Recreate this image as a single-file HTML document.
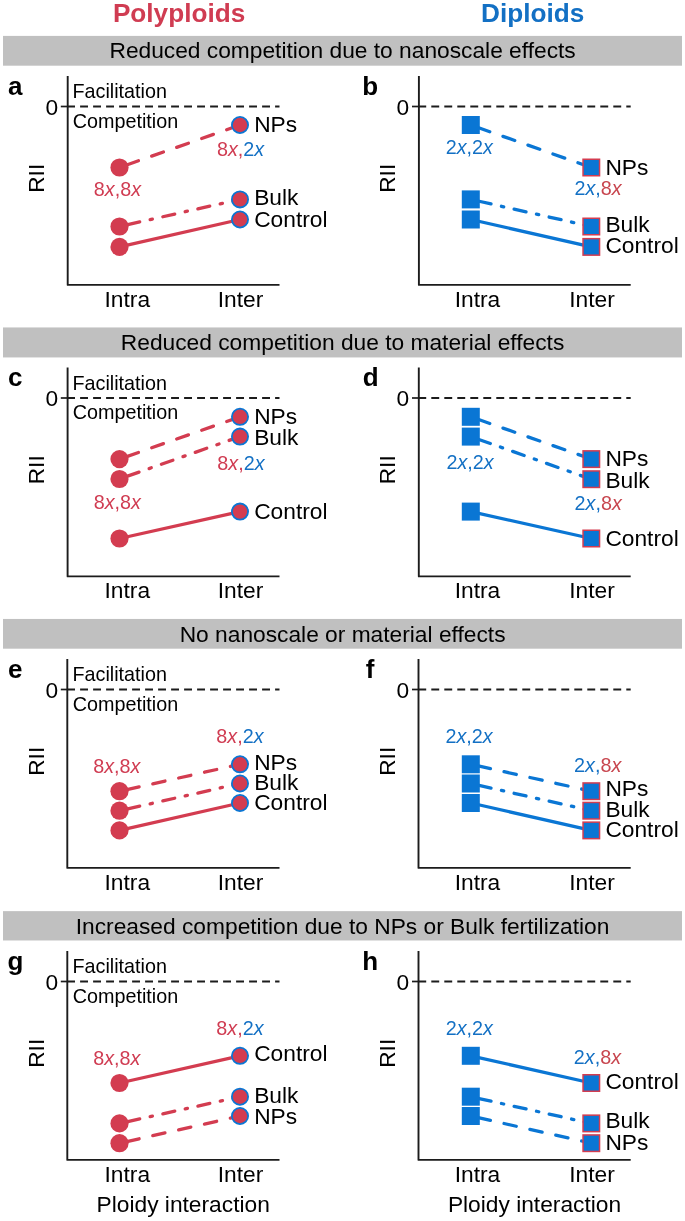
<!DOCTYPE html>
<html><head><meta charset="utf-8"><style>
html,body{margin:0;padding:0;background:#fff;}
body{width:685px;height:1221px;overflow:hidden;}
svg{display:block;will-change:transform;font-family:"Liberation Sans",sans-serif;}
</style></head><body>
<svg width="685" height="1221" viewBox="0 0 685 1221">
<rect x="3" y="35.9" width="679" height="29.800000000000004" fill="#c0c0c0"/>
<text x="342.6" y="58.03" font-size="22.75" text-anchor="middle" fill="#000" font-weight="normal" >Reduced competition due to nanoscale effects</text>
<path d="M67.7,76 V284.9 H279.5" fill="none" stroke="#1c1c1c" stroke-width="1.9" stroke-linejoin="round"/>
<line x1="60.8" y1="106.5" x2="67.7" y2="106.5" stroke="#1c1c1c" stroke-width="1.7"/>
<line x1="67.1" y1="106.5" x2="279.5" y2="106.5" stroke="#1c1c1c" stroke-width="1.8" stroke-dasharray="7.9 5.1"/>
<text x="45.4" y="114.5" font-size="22.75" text-anchor="start" fill="#000" font-weight="normal" >0</text>
<text x="7.9" y="94.6" font-size="26" text-anchor="start" fill="#000" font-weight="bold" >a</text>
<text x="0" y="0" font-size="22.75" text-anchor="middle" transform="translate(44.2,178.3) rotate(-90)">RII</text>
<text x="72.5" y="98" font-size="19.75" text-anchor="start" fill="#000" font-weight="normal" >Facilitation</text>
<text x="72.8" y="127.8" font-size="19.75" text-anchor="start" fill="#000" font-weight="normal" >Competition</text>
<text x="127.3" y="306.7" font-size="22.75" text-anchor="middle" fill="#000" font-weight="normal" >Intra</text>
<text x="240.5" y="306.7" font-size="22.75" text-anchor="middle" fill="#000" font-weight="normal" >Inter</text>
<line x1="119.5" y1="167.5" x2="240.0" y2="125.0" stroke="#d33c50" stroke-width="3.3" stroke-linecap="round" stroke-dasharray="12.5 14" stroke-dashoffset="18.9"/>
<line x1="119.5" y1="226.5" x2="240.0" y2="199.4" stroke="#d33c50" stroke-width="3.3" stroke-linecap="round" stroke-dasharray="12.2 10.7 2.3 10.7" stroke-dashoffset="27.4"/>
<line x1="119.5" y1="246.9" x2="240.0" y2="219.5" stroke="#d33c50" stroke-width="3.3" stroke-linecap="round"/>
<circle cx="119.5" cy="167.5" r="9.1" fill="#d33c50"/>
<circle cx="240.0" cy="125.0" r="8.1" fill="#d33c50" stroke="#0a76d4" stroke-width="1.8"/>
<text x="254.2" y="132.2" font-size="22.75" text-anchor="start" fill="#000" font-weight="normal" >NPs</text>
<circle cx="119.5" cy="226.5" r="9.1" fill="#d33c50"/>
<circle cx="240.0" cy="199.4" r="8.1" fill="#d33c50" stroke="#0a76d4" stroke-width="1.8"/>
<text x="254.2" y="205.4" font-size="22.75" text-anchor="start" fill="#000" font-weight="normal" >Bulk</text>
<circle cx="119.5" cy="246.9" r="9.1" fill="#d33c50"/>
<circle cx="240.0" cy="219.5" r="8.1" fill="#d33c50" stroke="#0a76d4" stroke-width="1.8"/>
<text x="254.2" y="226.8" font-size="22.75" text-anchor="start" fill="#000" font-weight="normal" >Control</text>
<text x="117.4" y="195.9" font-size="19.75" text-anchor="middle"><tspan fill="#d03c52">8<tspan font-style="italic">x</tspan>,</tspan><tspan fill="#d03c52">8<tspan font-style="italic">x</tspan></tspan></text>
<text x="240.5" y="155.9" font-size="19.75" text-anchor="middle"><tspan fill="#d03c52">8<tspan font-style="italic">x</tspan>,</tspan><tspan fill="#1370c4">2<tspan font-style="italic">x</tspan></tspan></text>
<path d="M418.9,76 V284.9 H630.7" fill="none" stroke="#1c1c1c" stroke-width="1.9" stroke-linejoin="round"/>
<line x1="412.0" y1="106.5" x2="418.9" y2="106.5" stroke="#1c1c1c" stroke-width="1.7"/>
<line x1="418.29999999999995" y1="106.5" x2="630.7" y2="106.5" stroke="#1c1c1c" stroke-width="1.8" stroke-dasharray="7.9 5.1"/>
<text x="396.59999999999997" y="114.5" font-size="22.75" text-anchor="start" fill="#000" font-weight="normal" >0</text>
<text x="362.3" y="94.6" font-size="26" text-anchor="start" fill="#000" font-weight="bold" >b</text>
<text x="0" y="0" font-size="22.75" text-anchor="middle" transform="translate(395.4,178.3) rotate(-90)">RII</text>
<text x="477.5" y="306.7" font-size="22.75" text-anchor="middle" fill="#000" font-weight="normal" >Intra</text>
<text x="592.0" y="306.7" font-size="22.75" text-anchor="middle" fill="#000" font-weight="normal" >Inter</text>
<line x1="470.8" y1="125.0" x2="591.3000000000001" y2="167.5" stroke="#0a76d4" stroke-width="3.3" stroke-linecap="round" stroke-dasharray="12.5 14" stroke-dashoffset="18.9"/>
<line x1="470.8" y1="199.4" x2="591.3000000000001" y2="226.5" stroke="#0a76d4" stroke-width="3.3" stroke-linecap="round" stroke-dasharray="12.2 10.7 2.3 10.7" stroke-dashoffset="27.4"/>
<line x1="470.8" y1="219.5" x2="591.3000000000001" y2="246.9" stroke="#0a76d4" stroke-width="3.3" stroke-linecap="round"/>
<rect x="461.8" y="116.0" width="18" height="18" fill="#0a76d4"/>
<rect x="583.0500000000001" y="159.25" width="16.5" height="16.5" fill="#0a76d4" stroke="#d33c50" stroke-width="1.5"/>
<text x="605.4" y="174.5" font-size="22.75" text-anchor="start" fill="#000" font-weight="normal" >NPs</text>
<rect x="461.8" y="190.4" width="18" height="18" fill="#0a76d4"/>
<rect x="583.0500000000001" y="218.25" width="16.5" height="16.5" fill="#0a76d4" stroke="#d33c50" stroke-width="1.5"/>
<text x="605.4" y="231.5" font-size="22.75" text-anchor="start" fill="#000" font-weight="normal" >Bulk</text>
<rect x="461.8" y="210.5" width="18" height="18" fill="#0a76d4"/>
<rect x="583.0500000000001" y="238.65" width="16.5" height="16.5" fill="#0a76d4" stroke="#d33c50" stroke-width="1.5"/>
<text x="605.4" y="253.4" font-size="22.75" text-anchor="start" fill="#000" font-weight="normal" >Control</text>
<text x="469.3" y="154.2" font-size="19.75" text-anchor="middle"><tspan fill="#1370c4">2<tspan font-style="italic">x</tspan>,</tspan><tspan fill="#1370c4">2<tspan font-style="italic">x</tspan></tspan></text>
<text x="598.0" y="195.2" font-size="19.75" text-anchor="middle"><tspan fill="#1370c4">2<tspan font-style="italic">x</tspan>,</tspan><tspan fill="#c8464f">8<tspan font-style="italic">x</tspan></tspan></text>
<rect x="3" y="327.45" width="679" height="30.0" fill="#c0c0c0"/>
<text x="342.6" y="350.2" font-size="22.75" text-anchor="middle" fill="#000" font-weight="normal" >Reduced competition due to material effects</text>
<path d="M67.6,367.5 V576.4 H279.5" fill="none" stroke="#1c1c1c" stroke-width="1.9" stroke-linejoin="round"/>
<line x1="60.8" y1="398.0" x2="67.6" y2="398.0" stroke="#1c1c1c" stroke-width="1.7"/>
<line x1="67.1" y1="398.0" x2="279.5" y2="398.0" stroke="#1c1c1c" stroke-width="1.8" stroke-dasharray="7.9 5.1"/>
<text x="45.4" y="406.0" font-size="22.75" text-anchor="start" fill="#000" font-weight="normal" >0</text>
<text x="7.9" y="386.1" font-size="26" text-anchor="start" fill="#000" font-weight="bold" >c</text>
<text x="0" y="0" font-size="22.75" text-anchor="middle" transform="translate(44.2,469.8) rotate(-90)">RII</text>
<text x="72.5" y="389.5" font-size="19.75" text-anchor="start" fill="#000" font-weight="normal" >Facilitation</text>
<text x="72.8" y="419.3" font-size="19.75" text-anchor="start" fill="#000" font-weight="normal" >Competition</text>
<text x="127.3" y="598.2" font-size="22.75" text-anchor="middle" fill="#000" font-weight="normal" >Intra</text>
<text x="240.5" y="598.2" font-size="22.75" text-anchor="middle" fill="#000" font-weight="normal" >Inter</text>
<line x1="119.5" y1="459.1" x2="240.0" y2="416.8" stroke="#d33c50" stroke-width="3.3" stroke-linecap="round" stroke-dasharray="12.5 14" stroke-dashoffset="18.9"/>
<line x1="119.5" y1="479.0" x2="240.0" y2="436.6" stroke="#d33c50" stroke-width="3.3" stroke-linecap="round" stroke-dasharray="12.2 10.7 2.3 10.7" stroke-dashoffset="27.4"/>
<line x1="119.5" y1="538.5" x2="240.0" y2="511.6" stroke="#d33c50" stroke-width="3.3" stroke-linecap="round"/>
<circle cx="119.5" cy="459.1" r="9.1" fill="#d33c50"/>
<circle cx="240.0" cy="416.8" r="8.1" fill="#d33c50" stroke="#0a76d4" stroke-width="1.8"/>
<text x="254.2" y="423.5" font-size="22.75" text-anchor="start" fill="#000" font-weight="normal" >NPs</text>
<circle cx="119.5" cy="479.0" r="9.1" fill="#d33c50"/>
<circle cx="240.0" cy="436.6" r="8.1" fill="#d33c50" stroke="#0a76d4" stroke-width="1.8"/>
<text x="254.2" y="445.0" font-size="22.75" text-anchor="start" fill="#000" font-weight="normal" >Bulk</text>
<circle cx="119.5" cy="538.5" r="9.1" fill="#d33c50"/>
<circle cx="240.0" cy="511.6" r="8.1" fill="#d33c50" stroke="#0a76d4" stroke-width="1.8"/>
<text x="254.2" y="518.6" font-size="22.75" text-anchor="start" fill="#000" font-weight="normal" >Control</text>
<text x="117.3" y="509.2" font-size="19.75" text-anchor="middle"><tspan fill="#d03c52">8<tspan font-style="italic">x</tspan>,</tspan><tspan fill="#d03c52">8<tspan font-style="italic">x</tspan></tspan></text>
<text x="240.9" y="469.9" font-size="19.75" text-anchor="middle"><tspan fill="#d03c52">8<tspan font-style="italic">x</tspan>,</tspan><tspan fill="#1370c4">2<tspan font-style="italic">x</tspan></tspan></text>
<path d="M418.79999999999995,367.5 V576.4 H630.7" fill="none" stroke="#1c1c1c" stroke-width="1.9" stroke-linejoin="round"/>
<line x1="412.0" y1="398.0" x2="418.79999999999995" y2="398.0" stroke="#1c1c1c" stroke-width="1.7"/>
<line x1="418.29999999999995" y1="398.0" x2="630.7" y2="398.0" stroke="#1c1c1c" stroke-width="1.8" stroke-dasharray="7.9 5.1"/>
<text x="396.59999999999997" y="406.0" font-size="22.75" text-anchor="start" fill="#000" font-weight="normal" >0</text>
<text x="362.8" y="386.1" font-size="26" text-anchor="start" fill="#000" font-weight="bold" >d</text>
<text x="0" y="0" font-size="22.75" text-anchor="middle" transform="translate(395.4,469.8) rotate(-90)">RII</text>
<text x="477.5" y="598.2" font-size="22.75" text-anchor="middle" fill="#000" font-weight="normal" >Intra</text>
<text x="592.0" y="598.2" font-size="22.75" text-anchor="middle" fill="#000" font-weight="normal" >Inter</text>
<line x1="470.8" y1="416.8" x2="591.3000000000001" y2="459.1" stroke="#0a76d4" stroke-width="3.3" stroke-linecap="round" stroke-dasharray="12.5 14" stroke-dashoffset="18.9"/>
<line x1="470.8" y1="436.6" x2="591.3000000000001" y2="479.2" stroke="#0a76d4" stroke-width="3.3" stroke-linecap="round" stroke-dasharray="12.2 10.7 2.3 10.7" stroke-dashoffset="27.4"/>
<line x1="470.8" y1="511.6" x2="591.3000000000001" y2="538.5" stroke="#0a76d4" stroke-width="3.3" stroke-linecap="round"/>
<rect x="461.8" y="407.8" width="18" height="18" fill="#0a76d4"/>
<rect x="583.0500000000001" y="450.85" width="16.5" height="16.5" fill="#0a76d4" stroke="#d33c50" stroke-width="1.5"/>
<text x="605.4" y="465.9" font-size="22.75" text-anchor="start" fill="#000" font-weight="normal" >NPs</text>
<rect x="461.8" y="427.6" width="18" height="18" fill="#0a76d4"/>
<rect x="583.0500000000001" y="470.95" width="16.5" height="16.5" fill="#0a76d4" stroke="#d33c50" stroke-width="1.5"/>
<text x="605.4" y="488.2" font-size="22.75" text-anchor="start" fill="#000" font-weight="normal" >Bulk</text>
<rect x="461.8" y="502.6" width="18" height="18" fill="#0a76d4"/>
<rect x="583.0500000000001" y="530.25" width="16.5" height="16.5" fill="#0a76d4" stroke="#d33c50" stroke-width="1.5"/>
<text x="605.4" y="546.0" font-size="22.75" text-anchor="start" fill="#000" font-weight="normal" >Control</text>
<text x="470.1" y="469.4" font-size="19.75" text-anchor="middle"><tspan fill="#1370c4">2<tspan font-style="italic">x</tspan>,</tspan><tspan fill="#1370c4">2<tspan font-style="italic">x</tspan></tspan></text>
<text x="598.2" y="510.4" font-size="19.75" text-anchor="middle"><tspan fill="#1370c4">2<tspan font-style="italic">x</tspan>,</tspan><tspan fill="#c8464f">8<tspan font-style="italic">x</tspan></tspan></text>
<rect x="3" y="618.94" width="679" height="29.75999999999999" fill="#c0c0c0"/>
<text x="342.6" y="641.8" font-size="22.75" text-anchor="middle" fill="#000" font-weight="normal" >No nanoscale or material effects</text>
<path d="M67.3,659.0 V867.9 H279.5" fill="none" stroke="#1c1c1c" stroke-width="1.9" stroke-linejoin="round"/>
<line x1="60.8" y1="689.5" x2="67.3" y2="689.5" stroke="#1c1c1c" stroke-width="1.7"/>
<line x1="67.1" y1="689.5" x2="279.5" y2="689.5" stroke="#1c1c1c" stroke-width="1.8" stroke-dasharray="7.9 5.1"/>
<text x="45.4" y="697.5" font-size="22.75" text-anchor="start" fill="#000" font-weight="normal" >0</text>
<text x="7.9" y="677.6" font-size="26" text-anchor="start" fill="#000" font-weight="bold" >e</text>
<text x="0" y="0" font-size="22.75" text-anchor="middle" transform="translate(44.2,761.3) rotate(-90)">RII</text>
<text x="72.5" y="681.0" font-size="19.75" text-anchor="start" fill="#000" font-weight="normal" >Facilitation</text>
<text x="72.8" y="710.8" font-size="19.75" text-anchor="start" fill="#000" font-weight="normal" >Competition</text>
<text x="127.3" y="889.7" font-size="22.75" text-anchor="middle" fill="#000" font-weight="normal" >Intra</text>
<text x="240.5" y="889.7" font-size="22.75" text-anchor="middle" fill="#000" font-weight="normal" >Inter</text>
<line x1="119.5" y1="791.2" x2="240.0" y2="764.3" stroke="#d33c50" stroke-width="3.3" stroke-linecap="round" stroke-dasharray="12.5 14" stroke-dashoffset="18.9"/>
<line x1="119.5" y1="810.7" x2="240.0" y2="783.5" stroke="#d33c50" stroke-width="3.3" stroke-linecap="round" stroke-dasharray="12.2 10.7 2.3 10.7" stroke-dashoffset="27.4"/>
<line x1="119.5" y1="830.4" x2="240.0" y2="803.0" stroke="#d33c50" stroke-width="3.3" stroke-linecap="round"/>
<circle cx="119.5" cy="791.2" r="9.1" fill="#d33c50"/>
<circle cx="240.0" cy="764.3" r="8.1" fill="#d33c50" stroke="#0a76d4" stroke-width="1.8"/>
<text x="254.2" y="769.7" font-size="22.75" text-anchor="start" fill="#000" font-weight="normal" >NPs</text>
<circle cx="119.5" cy="810.7" r="9.1" fill="#d33c50"/>
<circle cx="240.0" cy="783.5" r="8.1" fill="#d33c50" stroke="#0a76d4" stroke-width="1.8"/>
<text x="254.2" y="790.1" font-size="22.75" text-anchor="start" fill="#000" font-weight="normal" >Bulk</text>
<circle cx="119.5" cy="830.4" r="9.1" fill="#d33c50"/>
<circle cx="240.0" cy="803.0" r="8.1" fill="#d33c50" stroke="#0a76d4" stroke-width="1.8"/>
<text x="254.2" y="810.3" font-size="22.75" text-anchor="start" fill="#000" font-weight="normal" >Control</text>
<text x="116.8" y="773.4" font-size="19.75" text-anchor="middle"><tspan fill="#d03c52">8<tspan font-style="italic">x</tspan>,</tspan><tspan fill="#d03c52">8<tspan font-style="italic">x</tspan></tspan></text>
<text x="239.9" y="742.5" font-size="19.75" text-anchor="middle"><tspan fill="#d03c52">8<tspan font-style="italic">x</tspan>,</tspan><tspan fill="#1370c4">2<tspan font-style="italic">x</tspan></tspan></text>
<path d="M418.5,659.0 V867.9 H630.7" fill="none" stroke="#1c1c1c" stroke-width="1.9" stroke-linejoin="round"/>
<line x1="412.0" y1="689.5" x2="418.5" y2="689.5" stroke="#1c1c1c" stroke-width="1.7"/>
<line x1="418.29999999999995" y1="689.5" x2="630.7" y2="689.5" stroke="#1c1c1c" stroke-width="1.8" stroke-dasharray="7.9 5.1"/>
<text x="396.59999999999997" y="697.5" font-size="22.75" text-anchor="start" fill="#000" font-weight="normal" >0</text>
<text x="365.8" y="677.6" font-size="26" text-anchor="start" fill="#000" font-weight="bold" >f</text>
<text x="0" y="0" font-size="22.75" text-anchor="middle" transform="translate(395.4,761.3) rotate(-90)">RII</text>
<text x="477.5" y="889.7" font-size="22.75" text-anchor="middle" fill="#000" font-weight="normal" >Intra</text>
<text x="592.0" y="889.7" font-size="22.75" text-anchor="middle" fill="#000" font-weight="normal" >Inter</text>
<line x1="470.8" y1="764.3" x2="591.3000000000001" y2="791.2" stroke="#0a76d4" stroke-width="3.3" stroke-linecap="round" stroke-dasharray="12.5 14" stroke-dashoffset="18.9"/>
<line x1="470.8" y1="783.5" x2="591.3000000000001" y2="810.7" stroke="#0a76d4" stroke-width="3.3" stroke-linecap="round" stroke-dasharray="12.2 10.7 2.3 10.7" stroke-dashoffset="27.4"/>
<line x1="470.8" y1="803.0" x2="591.3000000000001" y2="830.4" stroke="#0a76d4" stroke-width="3.3" stroke-linecap="round"/>
<rect x="461.8" y="755.3" width="18" height="18" fill="#0a76d4"/>
<rect x="583.0500000000001" y="782.95" width="16.5" height="16.5" fill="#0a76d4" stroke="#d33c50" stroke-width="1.5"/>
<text x="605.4" y="796.4" font-size="22.75" text-anchor="start" fill="#000" font-weight="normal" >NPs</text>
<rect x="461.8" y="774.5" width="18" height="18" fill="#0a76d4"/>
<rect x="583.0500000000001" y="802.45" width="16.5" height="16.5" fill="#0a76d4" stroke="#d33c50" stroke-width="1.5"/>
<text x="605.4" y="817.1" font-size="22.75" text-anchor="start" fill="#000" font-weight="normal" >Bulk</text>
<rect x="461.8" y="794.0" width="18" height="18" fill="#0a76d4"/>
<rect x="583.0500000000001" y="822.15" width="16.5" height="16.5" fill="#0a76d4" stroke="#d33c50" stroke-width="1.5"/>
<text x="605.4" y="837.2" font-size="22.75" text-anchor="start" fill="#000" font-weight="normal" >Control</text>
<text x="469.0" y="742.9" font-size="19.75" text-anchor="middle"><tspan fill="#1370c4">2<tspan font-style="italic">x</tspan>,</tspan><tspan fill="#1370c4">2<tspan font-style="italic">x</tspan></tspan></text>
<text x="597.7" y="772.4" font-size="19.75" text-anchor="middle"><tspan fill="#1370c4">2<tspan font-style="italic">x</tspan>,</tspan><tspan fill="#c8464f">8<tspan font-style="italic">x</tspan></tspan></text>
<rect x="3" y="911.13" width="679" height="29.350000000000023" fill="#c0c0c0"/>
<text x="342.6" y="933.7" font-size="22.75" text-anchor="middle" fill="#000" font-weight="normal" >Increased competition due to NPs or Bulk fertilization</text>
<path d="M67.3,951.0 V1159.9 H279.5" fill="none" stroke="#1c1c1c" stroke-width="1.9" stroke-linejoin="round"/>
<line x1="60.8" y1="981.5" x2="67.3" y2="981.5" stroke="#1c1c1c" stroke-width="1.7"/>
<line x1="67.1" y1="981.5" x2="279.5" y2="981.5" stroke="#1c1c1c" stroke-width="1.8" stroke-dasharray="7.9 5.1"/>
<text x="45.4" y="989.5" font-size="22.75" text-anchor="start" fill="#000" font-weight="normal" >0</text>
<text x="7.5" y="969.6" font-size="26" text-anchor="start" fill="#000" font-weight="bold" >g</text>
<text x="0" y="0" font-size="22.75" text-anchor="middle" transform="translate(44.2,1053.3) rotate(-90)">RII</text>
<text x="72.5" y="973.0" font-size="19.75" text-anchor="start" fill="#000" font-weight="normal" >Facilitation</text>
<text x="72.8" y="1002.8" font-size="19.75" text-anchor="start" fill="#000" font-weight="normal" >Competition</text>
<text x="127.3" y="1181.7" font-size="22.75" text-anchor="middle" fill="#000" font-weight="normal" >Intra</text>
<text x="240.5" y="1181.7" font-size="22.75" text-anchor="middle" fill="#000" font-weight="normal" >Inter</text>
<line x1="119.5" y1="1143.2" x2="240.0" y2="1116.0" stroke="#d33c50" stroke-width="3.3" stroke-linecap="round" stroke-dasharray="12.5 14" stroke-dashoffset="18.9"/>
<line x1="119.5" y1="1123.4" x2="240.0" y2="1096.7" stroke="#d33c50" stroke-width="3.3" stroke-linecap="round" stroke-dasharray="12.2 10.7 2.3 10.7" stroke-dashoffset="27.4"/>
<line x1="119.5" y1="1083.0" x2="240.0" y2="1055.8" stroke="#d33c50" stroke-width="3.3" stroke-linecap="round"/>
<circle cx="119.5" cy="1143.2" r="9.1" fill="#d33c50"/>
<circle cx="240.0" cy="1116.0" r="8.1" fill="#d33c50" stroke="#0a76d4" stroke-width="1.8"/>
<text x="254.2" y="1124.4" font-size="22.75" text-anchor="start" fill="#000" font-weight="normal" >NPs</text>
<circle cx="119.5" cy="1123.4" r="9.1" fill="#d33c50"/>
<circle cx="240.0" cy="1096.7" r="8.1" fill="#d33c50" stroke="#0a76d4" stroke-width="1.8"/>
<text x="254.2" y="1103.0" font-size="22.75" text-anchor="start" fill="#000" font-weight="normal" >Bulk</text>
<circle cx="119.5" cy="1083.0" r="9.1" fill="#d33c50"/>
<circle cx="240.0" cy="1055.8" r="8.1" fill="#d33c50" stroke="#0a76d4" stroke-width="1.8"/>
<text x="254.2" y="1061.1" font-size="22.75" text-anchor="start" fill="#000" font-weight="normal" >Control</text>
<text x="116.8" y="1065.0" font-size="19.75" text-anchor="middle"><tspan fill="#d03c52">8<tspan font-style="italic">x</tspan>,</tspan><tspan fill="#d03c52">8<tspan font-style="italic">x</tspan></tspan></text>
<text x="239.9" y="1034.9" font-size="19.75" text-anchor="middle"><tspan fill="#d03c52">8<tspan font-style="italic">x</tspan>,</tspan><tspan fill="#1370c4">2<tspan font-style="italic">x</tspan></tspan></text>
<path d="M418.5,951.0 V1159.9 H630.7" fill="none" stroke="#1c1c1c" stroke-width="1.9" stroke-linejoin="round"/>
<line x1="412.0" y1="981.5" x2="418.5" y2="981.5" stroke="#1c1c1c" stroke-width="1.7"/>
<line x1="418.29999999999995" y1="981.5" x2="630.7" y2="981.5" stroke="#1c1c1c" stroke-width="1.8" stroke-dasharray="7.9 5.1"/>
<text x="396.59999999999997" y="989.5" font-size="22.75" text-anchor="start" fill="#000" font-weight="normal" >0</text>
<text x="362.3" y="969.6" font-size="26" text-anchor="start" fill="#000" font-weight="bold" >h</text>
<text x="0" y="0" font-size="22.75" text-anchor="middle" transform="translate(395.4,1053.3) rotate(-90)">RII</text>
<text x="477.5" y="1181.7" font-size="22.75" text-anchor="middle" fill="#000" font-weight="normal" >Intra</text>
<text x="592.0" y="1181.7" font-size="22.75" text-anchor="middle" fill="#000" font-weight="normal" >Inter</text>
<line x1="470.8" y1="1116.0" x2="591.3000000000001" y2="1143.2" stroke="#0a76d4" stroke-width="3.3" stroke-linecap="round" stroke-dasharray="12.5 14" stroke-dashoffset="18.9"/>
<line x1="470.8" y1="1096.7" x2="591.3000000000001" y2="1123.4" stroke="#0a76d4" stroke-width="3.3" stroke-linecap="round" stroke-dasharray="12.2 10.7 2.3 10.7" stroke-dashoffset="27.4"/>
<line x1="470.8" y1="1055.8" x2="591.3000000000001" y2="1083.0" stroke="#0a76d4" stroke-width="3.3" stroke-linecap="round"/>
<rect x="461.8" y="1107.0" width="18" height="18" fill="#0a76d4"/>
<rect x="583.0500000000001" y="1134.95" width="16.5" height="16.5" fill="#0a76d4" stroke="#d33c50" stroke-width="1.5"/>
<text x="605.4" y="1149.5" font-size="22.75" text-anchor="start" fill="#000" font-weight="normal" >NPs</text>
<rect x="461.8" y="1087.7" width="18" height="18" fill="#0a76d4"/>
<rect x="583.0500000000001" y="1115.15" width="16.5" height="16.5" fill="#0a76d4" stroke="#d33c50" stroke-width="1.5"/>
<text x="605.4" y="1128.1" font-size="22.75" text-anchor="start" fill="#000" font-weight="normal" >Bulk</text>
<rect x="461.8" y="1046.8" width="18" height="18" fill="#0a76d4"/>
<rect x="583.0500000000001" y="1074.75" width="16.5" height="16.5" fill="#0a76d4" stroke="#d33c50" stroke-width="1.5"/>
<text x="605.4" y="1088.9" font-size="22.75" text-anchor="start" fill="#000" font-weight="normal" >Control</text>
<text x="469.3" y="1034.9" font-size="19.75" text-anchor="middle"><tspan fill="#1370c4">2<tspan font-style="italic">x</tspan>,</tspan><tspan fill="#1370c4">2<tspan font-style="italic">x</tspan></tspan></text>
<text x="597.4" y="1063.7" font-size="19.75" text-anchor="middle"><tspan fill="#1370c4">2<tspan font-style="italic">x</tspan>,</tspan><tspan fill="#c8464f">8<tspan font-style="italic">x</tspan></tspan></text>
<text x="183.2" y="1211.8" font-size="22.75" text-anchor="middle" fill="#000" font-weight="normal" >Ploidy interaction</text>
<text x="534.5" y="1211.8" font-size="22.75" text-anchor="middle" fill="#000" font-weight="normal" >Ploidy interaction</text>
<text x="179.1" y="21.6" font-size="26.2" text-anchor="middle" fill="#d03c52" font-weight="bold" >Polyploids</text>
<text x="532.7" y="21.6" font-size="26.2" text-anchor="middle" fill="#1370c4" font-weight="bold" >Diploids</text>
</svg>
</body></html>
